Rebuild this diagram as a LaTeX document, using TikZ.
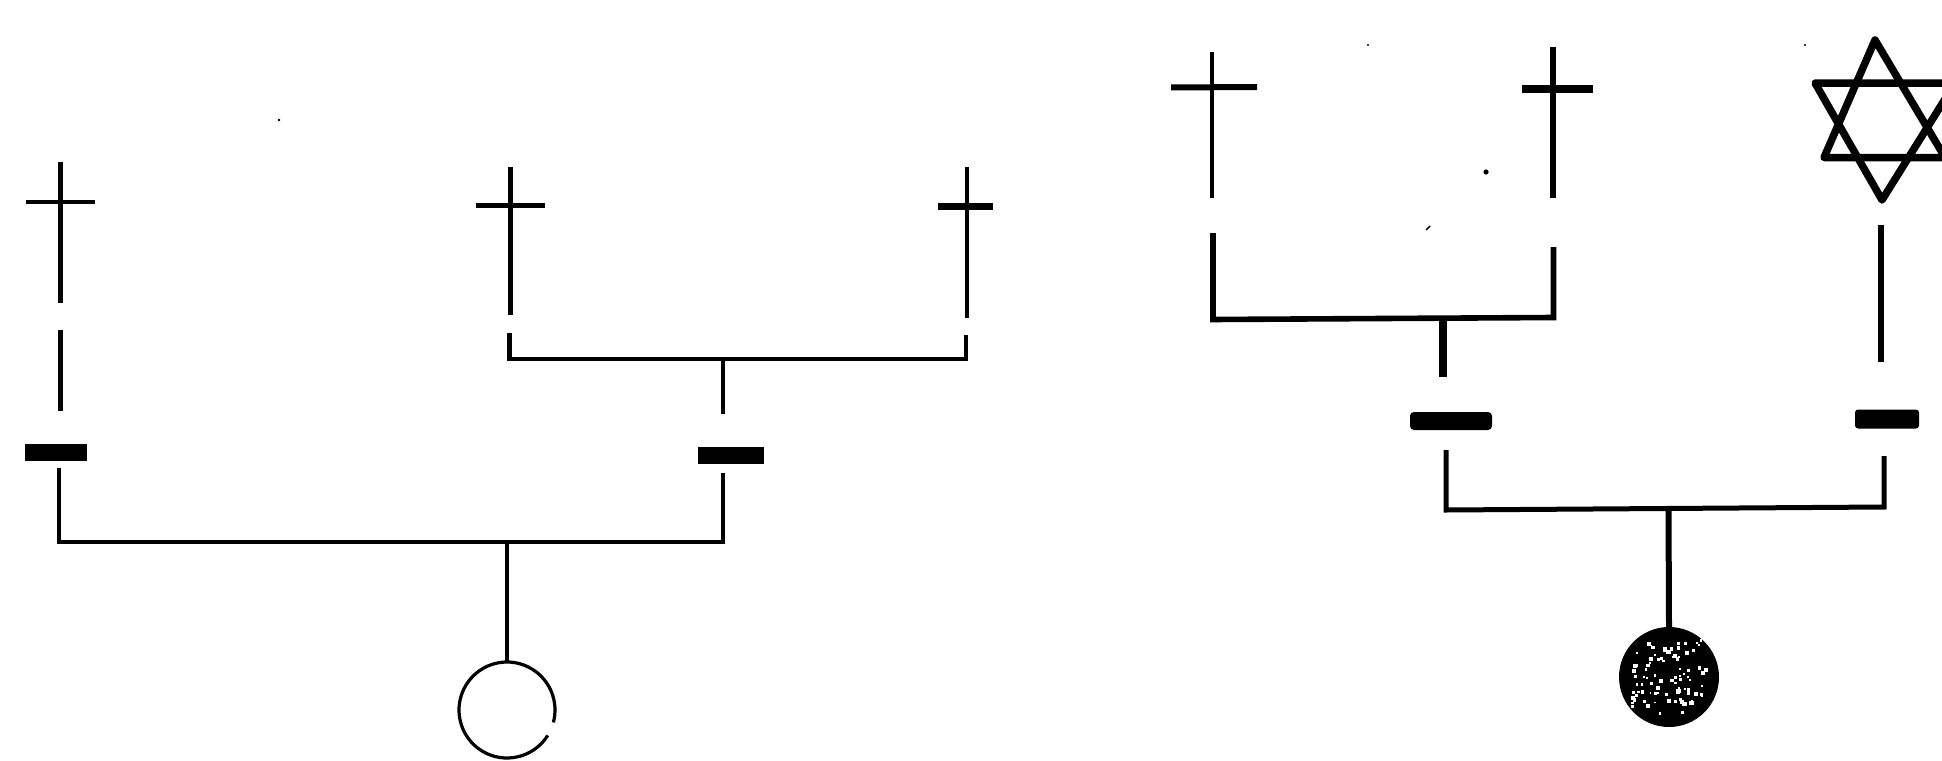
\documentclass[tikz,border=0pt]{standalone}
\begin{document}
\begin{tikzpicture}[x=1pt,y=-1pt,
  line/.style={draw=black,line width=4.4pt,line cap=butt,line join=miter},
  thin line/.style={draw=black,line width=3.4pt,line join=miter},
  heavy line/.style={draw=black,line width=5.6pt,line join=miter},
  arm/.style={draw=black,line width=4.4pt},
  heavy arm/.style={draw=black,line width=7pt},
  bar/.style={fill=black,draw=none,inner sep=0pt,rectangle},
  bars/.style={bar,minimum width=62pt,minimum height=17pt},
  barm/.style={bar,minimum width=66pt,minimum height=17pt},
  barl/.style={bar,rounded corners=4pt,minimum width=82pt,minimum height=18pt},
  barr/.style={bar,rounded corners=3pt,minimum width=64pt,minimum height=19pt},
  ringnode/.style={circle,draw=none,minimum size=96pt,inner sep=0pt},
  ringline/.style={draw=black,line width=3.2pt},
  discnode/.style={circle,fill=black,draw=none,minimum size=100pt,inner sep=0pt},
  speck/.style={fill=white,draw=none},
  dirt/.style={fill=black,draw=none},
  starline/.style={draw=black,line width=7.5pt,line join=round},
]
\useasboundingbox (0,0) rectangle (1942,760);
\fill[white] (0,0) rectangle (1942,760);
\clip (0,0) rectangle (1942,760);

% ---- left tree ----
\coordinate (aT) at (60.5,162);  \coordinate (aB) at (60.5,303);
\coordinate (aL) at (26,202);    \coordinate (aR) at (95,202);
\draw[line] (aT) -- (aB);
\draw[arm] (aL) -- (aR);
\coordinate (bT) at (510.5,167); \coordinate (bB) at (510.5,315);
\coordinate (bL) at (476,205.5); \coordinate (bR) at (545,205.5);
\draw[line] (bT) -- (bB);
\draw[arm] (bL) -- (bR);
\coordinate (cT) at (967,167);   \coordinate (cB) at (967,318);
\coordinate (cL) at (938,206);   \coordinate (cR) at (993,206);
\draw[line] (cT) -- (cB);
\draw[heavy arm] (cL) -- (cR);

\coordinate (a2T) at (60.5,330); \coordinate (a2B) at (60.5,411);
\draw[line] (a2T) -- (a2B);
\node[bars] (barA) at (56,452) {};
\node[barm] (barB) at (731,455) {};

\coordinate (bkL) at (509.5,333); \coordinate (bkLc) at (509.5,359);
\coordinate (bkR) at (966,335);   \coordinate (bkRc) at (966,359);
\draw[line] (bkL) -- (bkLc) -- (bkRc) -- (bkR);
\coordinate (bkM) at (723,359);   \coordinate (bkMb) at (723,414);
\draw[thin line] (bkM) -- (bkMb);

\coordinate (brL) at (59,468);   \coordinate (brLc) at (59,542);
\coordinate (brR) at (723,473);  \coordinate (brRc) at (723,542);
\draw[line] (brL) -- (brLc) -- (brRc) -- (brR);
\node[ringnode] (ring) at (507,710) {};
\coordinate (brM) at (507,542);
\draw[line] (brM) -- (ring.north);
\draw[ringline] (ring.center) ++(32:48) arc[start angle=32,end angle=375,radius=48];

% ---- right tree ----
\coordinate (dT) at (1212,52);   \coordinate (dB) at (1212,198);
\coordinate (dL) at (1171,87.5); \coordinate (dR) at (1257,87);
\draw[line] (dT) -- (dB);
\draw[heavy arm,line width=6pt] (dL) -- (dR);
\coordinate (eT) at (1553,47.5); \coordinate (eB) at (1553,198);
\coordinate (eL) at (1522,89);   \coordinate (eR) at (1593,89);
\draw[heavy line,line width=6.5pt] (eT) -- (eB);
\draw[heavy arm,line width=8pt] (eL) -- (eR);

\coordinate (fkL) at (1213,233);  \coordinate (fkLc) at (1213,319.5);
\coordinate (fkR) at (1553.5,247);\coordinate (fkRc) at (1553.5,317.5);
\draw[heavy line] (fkL) -- (fkLc) -- (fkRc) -- (fkR);
\coordinate (fkM) at (1443,318);  \coordinate (fkMb) at (1443,377);
\draw[draw=black,line width=8pt] (fkM) -- (fkMb);

\node[barl] (barC) at (1451,421) {};
\node[barr] (barD) at (1887,419) {};

\coordinate (sT) at (1881,225);  \coordinate (sB) at (1881,362);
\draw[draw=black,line width=6pt] (sT) -- (sB);

\coordinate (gkL) at (1446,450);  \coordinate (gkLc) at (1446,510);
\coordinate (gkR) at (1884,456);  \coordinate (gkRc) at (1884,507);
\draw[heavy line,line width=5pt] (gkL) -- (gkLc) -- (gkRc) -- (gkR);
\node[discnode] (disc) at (1669,677) {};
\coordinate (gkM) at (1668.5,508);
\draw[heavy line,line width=6pt] (gkM) -- (disc.north);
\pgfmathsetseed{11}
\foreach \i in {1,...,90}{
  \pgfmathsetmacro{\px}{1669+(rnd*2-1)*38}
  \pgfmathsetmacro{\py}{677+(rnd*2-1)*38}
  \pgfmathsetmacro{\ps}{1.5+rnd*3}
  \fill[speck] (\px,\py) rectangle ++(\ps,\ps);
}

% Star of David
\coordinate (u1) at (1875,40);  \coordinate (u2) at (1824,157.5); \coordinate (u3) at (1945,157.5);
\coordinate (v1) at (1815,83);  \coordinate (v2) at (1955,83);    \coordinate (v3) at (1882,200);
\draw[starline] (u1) -- (u2) -- (u3) -- cycle;
\draw[starline] (v1) -- (v2) -- (v3) -- cycle;

% printing specks
\fill[dirt] (279,120) circle[radius=1.3];
\fill[dirt] (1368,45) circle[radius=1.2];
\fill[dirt] (1805,45) circle[radius=1.2];
\fill[dirt] (1486,172) circle[radius=2.6];
\draw[draw=black,line width=1.4pt] (1426,230) -- (1430,226);
\end{tikzpicture}
\end{document}
